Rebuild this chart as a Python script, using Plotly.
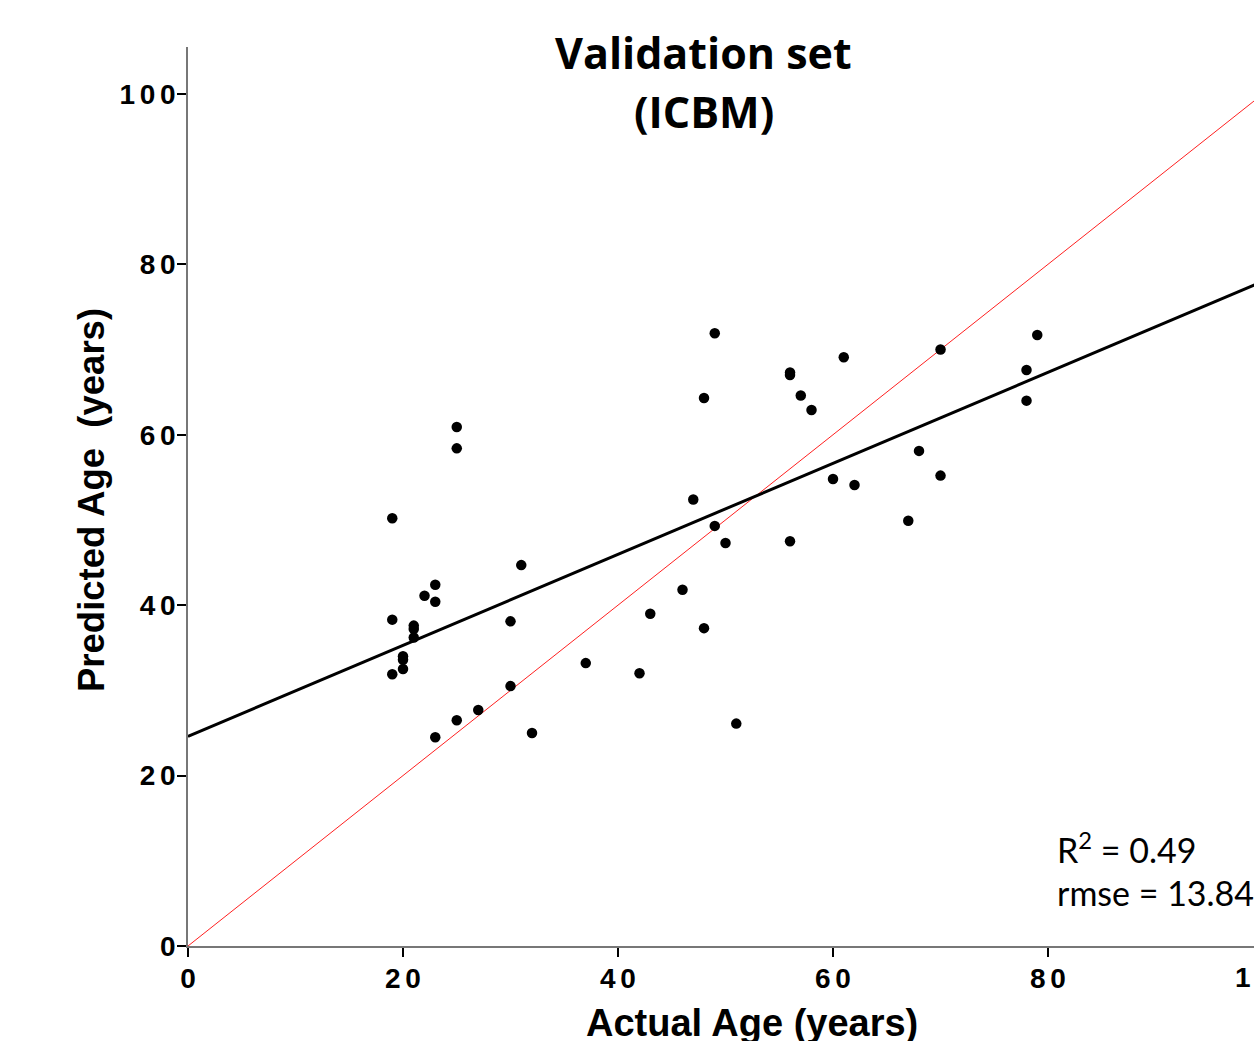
import plotly.graph_objects as go

# Data
actual_age = [19, 19, 19, 20, 20, 20, 21, 21, 21, 22, 23, 23, 23, 25, 25, 25, 27,
              30, 30, 31, 32, 37, 42, 43, 46, 47, 48, 48, 49, 49, 50, 51,
              56, 56, 56, 57, 58, 60, 61, 62, 67, 68, 70, 70, 78, 78, 79]
predicted_age = [50.2, 38.3, 31.9, 34.0, 33.6, 32.5, 37.6, 37.2, 36.2, 41.1, 42.4, 40.4, 24.5,
                 60.9, 58.4, 26.5, 27.7, 38.1, 30.5, 44.7, 25.0, 33.2, 32.0, 39.0, 41.8,
                 52.4, 64.3, 37.3, 71.9, 49.3, 47.3, 26.1, 67.3, 67.0, 47.5, 64.6, 62.9,
                 54.8, 69.1, 54.1, 49.9, 58.1, 70.0, 55.2, 67.6, 64.0, 71.7]

fit_intercept = 24.6
fit_slope = 0.534
line_x = [0, 100]
identity_y = [0, 100]
fit_y = [fit_intercept + fit_slope * v for v in line_x]

tick_vals = [0, 20, 40, 60, 80, 100]
tick_text = ["0", "2\u20060", "4\u20060", "6\u20060", "8\u20060", "1\u20060\u20060"]

title_line1 = "Validation set"
title_line2 = "(ICBM)"
x_title = "Actual Age (years)"
y_title = "Predicted Age  (years)"
stats_r2 = "R<sup>2</sup> = 0.49"
stats_rmse = "rmse = 13.84"

fig = go.Figure()
fig.add_trace(go.Scatter(x=line_x, y=identity_y, mode="lines",
                         line=dict(color="#ff2020", width=1), hoverinfo="skip"))
fig.add_trace(go.Scatter(x=line_x, y=fit_y, mode="lines",
                         line=dict(color="black", width=3), hoverinfo="skip"))
fig.add_trace(go.Scatter(x=actual_age, y=predicted_age, mode="markers",
                         marker=dict(color="black", size=10.5)))

tickfont = dict(family="Liberation Sans", size=28, color="black", weight="bold")
fig.update_xaxes(range=[0, 99.16], tickvals=tick_vals, ticktext=tick_text,
                 showgrid=False, zeroline=False, showline=True, linecolor="#777777",
                 linewidth=1.5, ticks="outside", ticklen=9, tickcolor="black",
                 tickwidth=1.5, tickfont=tickfont, ticklabelstandoff=-2)
fig.update_yaxes(range=[0, 105.5], tickvals=tick_vals, ticktext=tick_text,
                 showgrid=False, zeroline=False, showline=True, linecolor="#777777",
                 linewidth=1.5, ticks="outside", ticklen=9, tickcolor="black",
                 tickwidth=1.5, tickfont=tickfont, ticklabelstandoff=-4)

annos = [
    dict(text=title_line1, x=0.484, y=(946 - 53) / 899, font=dict(family="Open Sans", size=43, weight="bold")),
    dict(text=title_line2, x=0.484, y=(946 - 112) / 899, font=dict(family="Open Sans", size=43, weight="bold")),
    dict(text=x_title, x=(752 - 188) / 1066, y=(946 - 1023) / 899,
         font=dict(family="Liberation Sans", size=38, weight="bold")),
    dict(text=y_title, x=(91 - 188) / 1066, y=(946 - 500) / 899, textangle=-90,
         font=dict(family="Liberation Sans", size=36.5, weight="bold")),
    dict(text="1\u20060\u20060", x=(1263 - 188) / 1066, y=(946 - 977) / 899,
         font=tickfont),
    dict(text=stats_r2, x=(1055 - 188) / 1066, y=(946 - 848) / 899, xanchor="left",
         font=dict(family="Lato", size=34)),
    dict(text=stats_rmse, x=(1055 - 188) / 1066, y=(946 - 892) / 899, xanchor="left",
         font=dict(family="Lato", size=34)),
]
for a in annos:
    a.setdefault("xanchor", "center")
    a["font"].setdefault("color", "black")
    fig.add_annotation(xref="paper", yref="paper", yanchor="middle", showarrow=False, **a)

fig.update_layout(width=1254, height=1041, showlegend=False,
                  margin=dict(l=188, r=0, t=47, b=95),
                  plot_bgcolor="white", paper_bgcolor="white")
fig.write_html("out.html")
